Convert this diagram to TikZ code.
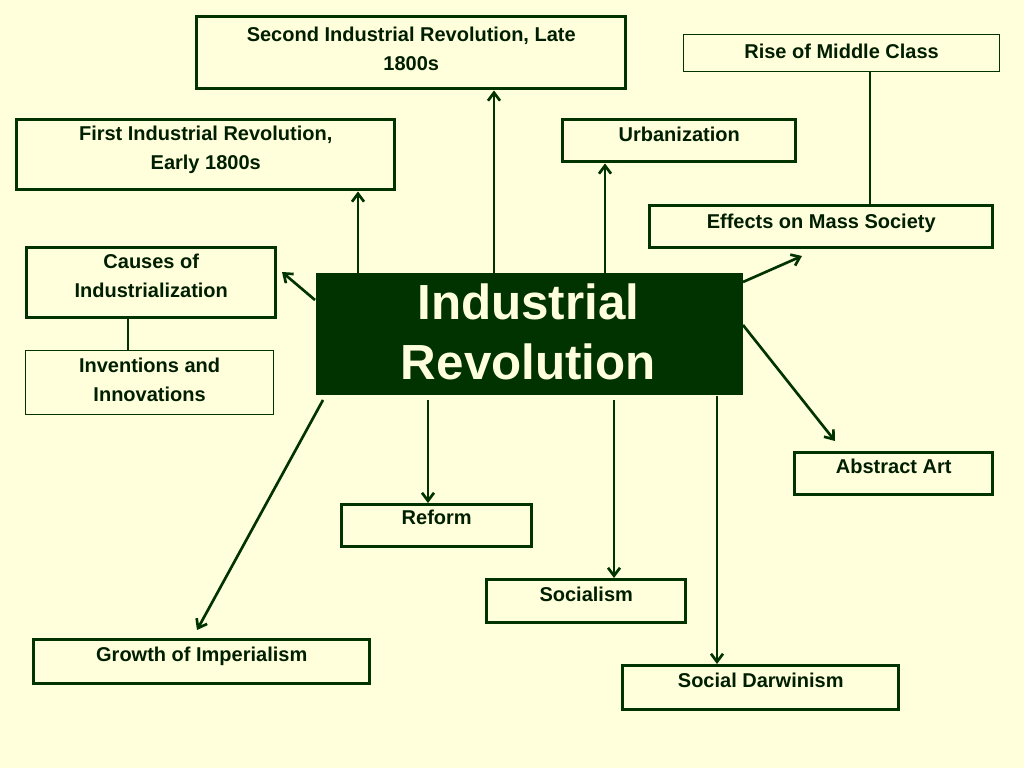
\documentclass[tikz,border=0pt]{standalone}
\usepackage{fontspec}
\usetikzlibrary{arrows.meta}
\setmainfont{Liberation Sans}
\definecolor{bg}{HTML}{FFFFDC}
\definecolor{dg}{HTML}{003300}
\begin{document}
\begin{tikzpicture}[x=0.75pt,y=-0.75pt,
 box/.style={draw=dg,line width=2.6pt,anchor=north west,inner sep=0pt},
 tbox/.style={draw=dg,line width=0.9pt,anchor=north west,inner sep=0pt},
 txt/.style={font=\bfseries\fontsize{15}{21.5}\selectfont,text=dg!60!black,align=center,anchor=north,inner sep=0pt},
 arr/.style={draw=dg,line width=2pt,-{Straight Barb[length=6pt,width=9pt]}},
 ln/.style={draw=dg,line width=2pt}]
\fill[bg] (0,0) rectangle (1024,768);
\useasboundingbox (0,0) rectangle (1024,768);
\newcommand{\bx}[7]{\node[#1,minimum width=#4*0.75pt,minimum height=#5*0.75pt] (#2) at (#3) {};
 \node[txt] (#2t) at ([yshift=#6*-0.75pt-3pt]#2.north) {#7};}
\bx{box}{sec}{195,15}{429}{72}{8}{Second Industrial Revolution, Late\\1800s}
\bx{tbox}{rise}{683,34}{316}{37}{6}{Rise of Middle Class}
\bx{box}{first}{15,118}{378}{70}{4}{First Industrial Revolution,\\Early 1800s}
\bx{box}{urb}{561,118}{233}{42}{5}{Urbanization}
\bx{box}{eff}{648,204}{343}{42}{6}{Effects on Mass Society}
\bx{box}{cau}{25,246}{249}{70}{4}{Causes of\\Industrialization}
\bx{tbox}{inv}{25,350}{248}{64}{4}{Inventions and\\Innovations}
\bx{box}{abs}{793,451}{198}{42}{4}{Abstract Art}
\bx{box}{ref}{340,503}{190}{42}{3}{Reform}
\bx{box}{soc}{485,578}{199}{43}{5}{Socialism}
\bx{box}{imp}{32,638}{336}{44}{5}{Growth of Imperialism}
\bx{box}{dar}{621,664}{276}{44}{5}{Social Darwinism}
\node[fill=dg,anchor=north west,minimum width=427*0.75pt,minimum height=122*0.75pt,inner sep=0pt] (c) at (316,273) {};
\node[font=\bfseries\fontsize{37}{45}\selectfont,text=bg,align=center,anchor=north,inner sep=0pt] (ct) at ([yshift=-8pt,xshift=-1pt]c.north) {Industrial\\Revolution};
\draw[arr] (c.north -| 494,0) -- (sec.south -| 494,0);
\draw[arr] (c.north -| 358,0) -- (first.south -| 358,0);
\draw[arr] (c.north -| 605,0) -- (urb.south -| 605,0);
\draw[arr] (315,300) -- (282,272);
\draw[arr] (743,282) -- (802,256);
\draw[arr] (743,325) -- (835,441);
\draw[arr] (428,400) -- (ref.north -| 428,0);
\draw[arr] (614,400) -- (soc.north -| 614,0);
\draw[arr] (c.south -| 717,0) -- (dar.north -| 717,0);
\draw[arr] (323,400) -- (197,630);
\draw[ln] (rise.south -| 870,0) -- (eff.north -| 870,0);
\draw[ln] (cau.south -| 128,0) -- (inv.north -| 128,0);
\end{tikzpicture}
\end{document}
